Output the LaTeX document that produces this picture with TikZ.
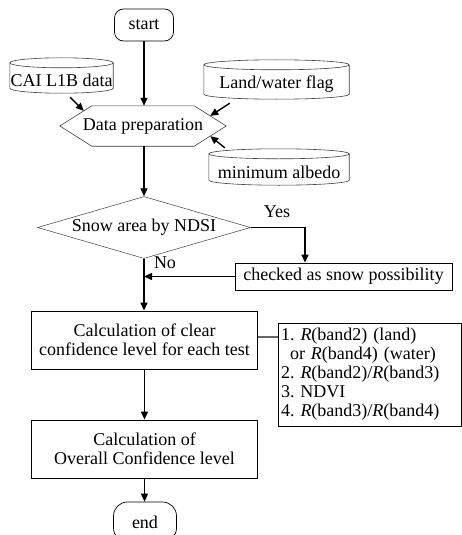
\documentclass[tikz,border=0pt]{standalone}
\usepackage{fontspec}
\setmainfont{Liberation Serif}
\usetikzlibrary{shapes.geometric,arrows.meta,calc}
\frenchspacing
\newcommand\cylbody[1]{%
 \draw[outl] let \p1=(#1.north west), \p2=(#1.south east), \n1={(\x2-\x1)/2} in
 ([yshift=5pt]#1.north) ellipse [x radius=\n1, y radius=5pt]
 ([yshift=5pt]#1.north west) -- ([yshift=5pt]#1.south west)
 arc[start angle=180,end angle=360,x radius=\n1,y radius=5pt] -- ([yshift=5pt]#1.north east);}
\begin{document}
\begin{tikzpicture}[x=1pt,y=-1pt, font=\fontsize{18}{19}\selectfont,
 outl/.style={draw=black!75, line width=0.6pt},
 arr/.style={line width=1.4pt, -{Triangle[length=8pt,width=7pt]}},
 term/.style={draw, line width=0.7pt, rounded corners=9pt, minimum width=59pt, minimum height=32pt, inner sep=0},
 proc/.style={draw, line width=0.8pt, minimum width=226pt, minimum height=58pt, align=center, inner sep=0},
 plain/.style={inner sep=0},
]
\path[use as bounding box, clip] (0,0) rectangle (462,535);
\fill[white] (0,0) rectangle (462,535);

\node[term] (start) at (144,25) {start};
\node[plain, minimum width=103, minimum height=25] (cai) at (61.5,80.5) {CAI L1B data};
\node[plain, minimum width=145, minimum height=29] (land) at (276.5,84.5) {Land/water flag};
\node[plain, minimum width=140, minimum height=26] (minalb) at (279,172) {minimum albedo};
\cylbody{cai}
\cylbody{land}
\cylbody{minalb}

\node[plain, minimum width=102, minimum height=40] (prep) at (143,126) {\makebox[102pt][c]{Data preparation}};
\coordinate (pl) at ([xshift=-32pt]prep.west);
\coordinate (pr) at ([xshift=32pt]prep.east);
\draw[outl] (prep.north west) -- (prep.north east) -- (pr) -- (prep.south east) -- (prep.south west) -- (pl) -- cycle;

\node[draw=black!75, line width=0.5pt, diamond, aspect=3.44, minimum width=213, minimum height=62, inner sep=0] (ndsi) at (144,227.5) {Snow area by NDSI};
\node[draw, line width=0.8pt, minimum width=217, minimum height=27, inner sep=0] (check) at (343.5,276.5) {checked as snow possibility};
\node[plain] (yes) at (277,212) {Yes};
\node[plain] (no) at (165,263) {No};

\node[proc] (calc) at (144.5,340) {Calculation of clear\\confidence level for each test};
\node[draw, line width=0.8pt, minimum height=103, text width=177pt, inner xsep=3pt, inner ysep=0, align=left] (list) at (369.5,374.5)
 {1. \textit{R}(band2) (land)\\\hspace*{9pt}or \textit{R}(band4) (water)\\2. \textit{R}(band2)/\textit{R}(band3)\\3. NDVI\\4. \textit{R}(band3)/\textit{R}(band4)};
\node[proc] (overall) at (144.5,449) {Calculation of\\Overall Confidence level};
\node[term, rounded corners=14pt, minimum width=63, minimum height=40] (end) at (145,522) {end};

\draw[arr] (start.south) -- (start.south |- prep.north);
\draw[arr] ($(cai.south)+(8.5,4)$) -- ($(prep.north west)!0.25!(pl)$);
\draw[arr] ($(land.south west)+(26,4)$) -- ($(prep.north east)!0.5!(pr)$);
\draw[arr] ($(minalb.north west)+(16,-11)$) -- ($(pr)!0.5!(prep.south east)$);
\draw[arr] (prep.south -| start.south) -- (start.south |- ndsi.north);
\draw[arr] (ndsi.east) -| ([xshift=-38.5pt]check.north);
\draw[arr] (check.west) -- (check.west -| ndsi.south);
\draw[arr] (ndsi.south) -- (ndsi.south |- calc.north);
\coordinate (lc) at ([yshift=3pt]calc.east);
\draw[black!60, line width=1.2pt] (lc) -- (lc -| list.west);
\draw[arr] (calc.south) -- (overall.north);
\draw[arr] (overall.south) -- (overall.south |- end.north);
\end{tikzpicture}
\end{document}
